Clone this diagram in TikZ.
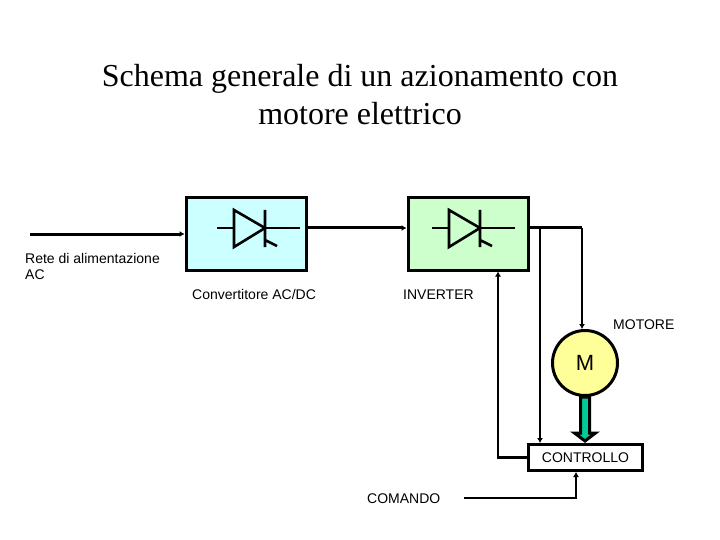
\documentclass[tikz,border=0pt]{standalone}
\usepackage{fontspec}
\setmainfont{Liberation Serif}
\setsansfont{Liberation Sans}
\usetikzlibrary{positioning, arrows.meta, calc}

\begin{document}
\begin{tikzpicture}[
                x=1pt, y=-1pt,
                blocco/.style={draw=black, line width=3pt, rectangle, minimum width=120pt, minimum height=72pt, inner sep=0pt},
                motore/.style={draw=black, line width=3pt, circle, fill=motorgiallo, minimum size=65pt, inner sep=0pt, font=\sffamily\fontsize{22}{22}\selectfont},
                controllo/.style={draw=black, line width=3pt, rectangle, minimum width=114pt, minimum height=26pt, inner sep=0pt, font=\sffamily\fontsize{14}{14}\selectfont},
                etichetta/.style={font=\sffamily\fontsize{14}{16}\selectfont, inner sep=0pt, align=left},
                titolo/.style={font=\fontsize{32}{38}\selectfont, inner sep=0pt, align=center},
                edge/.style={line width=3pt, -{Latex[length=5pt, width=6pt]}},
                linea/.style={line width=2.2pt, -{Latex[length=5pt, width=6pt]}},
                diodo/.pic={
                    \draw[line width=2.6pt, line join=miter] (-16,-18) -- (15,0) -- (-16,19) -- cycle;
                    \draw[line width=2.6pt] (-33,0) -- (-16,0) (15,0) -- (50,0);
                    \draw[line width=2.6pt] (15,-18) -- (15,19) (15,12) -- (27,18);
                }
            ]
            \definecolor{motorgiallo}{HTML}{FFFF99}
            \definecolor{bloccociano}{HTML}{CCFFFF}
            \definecolor{bloccoverde}{HTML}{CCFFCC}
            \definecolor{alberoverde}{HTML}{00CC99}

            \useasboundingbox (0,0) rectangle (720,540);

            % Titolo
            \node[titolo] (title) at (360,95) {Schema generale di un azionamento con\\motore elettrico};

            % Blocchi
            \node[blocco, fill=bloccociano] (conv) at (246,234) {};
            \node[blocco, fill=bloccoverde, right=99pt of conv] (inv) {};
            \node[motore] (M) at (585,363) {M};
            \node[controllo] (ctrl) at (585.5,457.5) {CONTROLLO};
            \pic at (250,228) {diodo};
            \pic at (465,228) {diodo};

            % Etichette
            \node[etichetta, anchor=north west] (rete) at (25,253) {Rete di alimentazione\\AC};
            \node[etichetta, anchor=base west] (convlabel) at (192,299) {Convertitore AC/DC};
            \node[etichetta, anchor=base west] (invlabel) at (403,299) {INVERTER};
            \node[etichetta, anchor=base west] (motlabel) at (613,329) {MOTORE};
            \node[etichetta, anchor=base west] (comlabel) at (367,503) {COMANDO};

            % Estremi liberi e diramazioni
            \coordinate (in) at (30,234);
            \coordinate (com) at (464,498);
            \coordinate (ang) at (582,228);
            \coordinate (dir) at (540,228);

            % Collegamenti
            \draw[edge] (in) -- (conv.west |- in);
            \draw[edge] (conv.east |- ang) -- (inv.west |- ang);
            \draw[line width=3pt, line join=miter] (inv.east |- ang) -- (ang);
            \draw[linea] (ang) -- (ang |- M.north);
            \draw[linea] (dir) -- (dir |- ctrl.north);
            \draw[linea] (ctrl.west) -| (inv.south -| 498,0);
            \draw[linea] (com) -| (ctrl.south -| 576,0);

            % Albero motore
            \draw[line width=3pt, fill=alberoverde, line join=miter]
                ($(M.south)+(-4.5,0)$) -- ++(0,36) -- ++(-6,0) -- ($(ctrl.north -| M)+(0,-2)$) -- ($(M.south)+(10.5,36)$) -- ++(-6,0) -- ($(M.south)+(4.5,0)$) -- cycle;
        \end{tikzpicture}
\end{document}
